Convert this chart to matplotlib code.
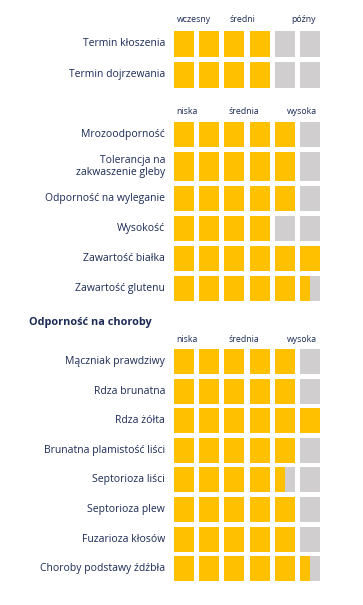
import matplotlib.pyplot as plt
from matplotlib.patches import Rectangle

# ocena odmiany w skali 1-6 kratek
termin_labels = ["Termin kłoszenia", "Termin dojrzewania"]
termin_values = [4, 4]
termin_scale = ["wczesny", "średni", "późny"]

cechy_labels = ["Mrozoodporność", "Tolerancja na\nzakwaszenie gleby", "Odporność na wyleganie",
                "Wysokość", "Zawartość białka", "Zawartość glutenu"]
cechy_values = [5, 5, 5, 4, 6, 5.5]
cechy_scale = ["niska", "średnia", "wysoka"]

choroby_title = "Odporność na choroby"
choroby_labels = ["Mączniak prawdziwy", "Rdza brunatna", "Rdza żółta", "Brunatna plamistość liści",
                  "Septorioza liści", "Septorioza plew", "Fuzarioza kłosów", "Choroby podstawy źdźbła"]
choroby_values = [5, 5, 6, 5, 4.5, 5, 5, 5.5]
choroby_scale = ["niska", "średnia", "wysoka"]

YELLOW = "#FFC000"
GREY = "#D0CECE"
TXT = "#1b2a55"
plt.rcParams['font.family'] = ['Open Sans', 'DejaVu Sans']

fig = plt.figure(figsize=(3.63, 6.05), dpi=100)
ax = fig.add_axes([0, 0, 1, 1])
ax.set_xlim(0, 363)
ax.set_ylim(605, 0)
ax.axis("off")

X0 = 174      # lewa krawedz pierwszej kratki
DX = 25.2     # odstep kratek
W = 20        # szerokosc kratki
NCELL = 6


def section(labels, values, scale, top, step, h, head_y, head_pos, tall=None):
    # naglowek skali
    for txt, pos in zip(scale, head_pos):
        ax.text(pos, head_y, txt, ha="center", va="center",
                fontsize=6.3, color=TXT)
    y = top
    for i, (lab, val) in enumerate(zip(labels, values)):
        hh = h
        if tall is not None and i == tall:
            hh = h + 4
        for k in range(NCELL):
            x = X0 + k * DX
            ax.add_patch(Rectangle((x, y), W, hh, color=GREY, lw=0))
            frac = min(max(val - k, 0), 1)
            if frac > 0:
                ax.add_patch(Rectangle((x, y), W * frac, hh, color=YELLOW, lw=0))
        ax.text(165, y + hh / 2, lab, ha="right", va="center", fontsize=7.5,
                color=TXT, linespacing=1.05)
        y += step + (hh - h)


section(termin_labels, termin_values, termin_scale, 31, 31, 26, 20, [194, 242, 304])
section(cechy_labels, cechy_values, cechy_scale, 122, 30.0, 25, 112, [187, 244, 302], tall=1)
ax.text(29, 323, choroby_title, ha="left", va="center", fontsize=7.8,
        fontweight="bold", color=TXT)
section(choroby_labels, choroby_values, choroby_scale, 349, 29.6, 25, 339, [187, 244, 302])

fig.savefig("out.png", dpi=100)
